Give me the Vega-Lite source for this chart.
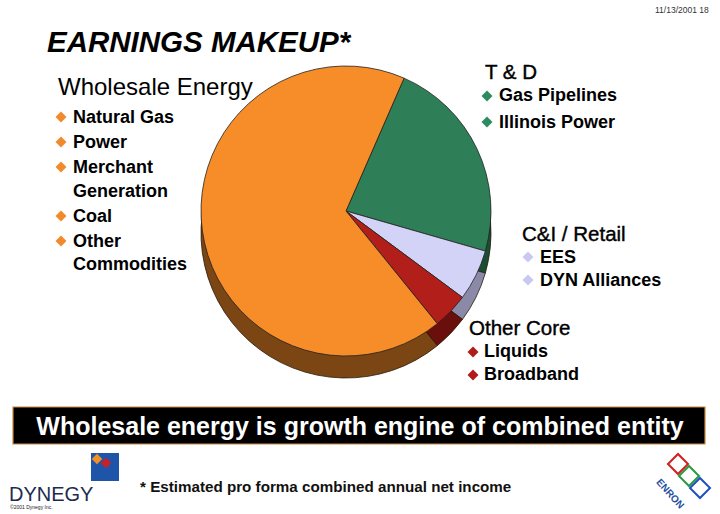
{
  "$schema": "https://vega.github.io/schema/vega-lite/v6.json",
  "width": 720,
  "height": 514,
  "padding": 0,
  "autosize": {"type": "fit", "contains": "padding"},
  "background": "white",
  "config": {"view": {"stroke": null}, "font": "Liberation Sans"},
  "datasets": {
    "pie": [
      {"segment": "T & D", "value": 22.9, "order": 1},
      {"segment": "C&I / Retail", "value": 5.7, "order": 2},
      {"segment": "Other Core", "value": 4.0, "order": 3},
      {"segment": "Wholesale Energy", "value": 67.4, "order": 4}
    ]
  },
  "resolve": {"scale": {"color": "independent"}},
  "layer": [
    {
      "data": {"values": [{"x": 13, "x2": 705, "y": 407, "y2": 444}]},
      "mark": {"type": "rect", "fill": "#000000", "stroke": "#c9893a", "strokeWidth": 1.2},
      "encoding": {
        "x": {"field": "x", "type": "quantitative", "scale": {"domain": [0, 720]}, "axis": null},
        "x2": {"field": "x2"},
        "y": {"field": "y", "type": "quantitative", "scale": {"domain": [514, 0]}, "axis": null},
        "y2": {"field": "y2"}
      }
    },
    {
      "data": {"name": "pie"},
      "mark": {"type": "arc", "outerRadius": 145, "yOffset": 8},
      "encoding": {
        "x": {"datum": 346, "type": "quantitative", "scale": {"domain": [0, 720]}, "axis": null},
        "y": {"datum": 211, "type": "quantitative", "scale": {"domain": [514, 0]}, "axis": null},
        "theta": {"field": "value", "type": "quantitative", "stack": true, "scale": {"range": [0.412, 6.6952]}},
        "order": {"field": "order"},
        "color": {"field": "segment", "type": "nominal", "legend": null,
          "scale": {"domain": ["Wholesale Energy", "T & D", "C&I / Retail", "Other Core"], "range": ["#7b4613", "#1b4d33", "#8a8aa8", "#6b0f0c"]}}
      }
    },
    {
      "data": {"name": "pie"},
      "mark": {"type": "arc", "outerRadius": 145, "yOffset": 15},
      "encoding": {
        "x": {"datum": 346, "type": "quantitative", "scale": {"domain": [0, 720]}, "axis": null},
        "y": {"datum": 211, "type": "quantitative", "scale": {"domain": [514, 0]}, "axis": null},
        "theta": {"field": "value", "type": "quantitative", "stack": true, "scale": {"range": [0.412, 6.6952]}},
        "order": {"field": "order"},
        "color": {"field": "segment", "type": "nominal", "legend": null,
          "scale": {"domain": ["Wholesale Energy", "T & D", "C&I / Retail", "Other Core"], "range": ["#7b4613", "#1b4d33", "#8a8aa8", "#6b0f0c"]}}
      }
    },
    {
      "data": {"name": "pie"},
      "mark": {"type": "arc", "outerRadius": 145, "yOffset": 22, "stroke": "#2a1a0a", "strokeWidth": 0.8},
      "encoding": {
        "x": {"datum": 346, "type": "quantitative", "scale": {"domain": [0, 720]}, "axis": null},
        "y": {"datum": 211, "type": "quantitative", "scale": {"domain": [514, 0]}, "axis": null},
        "theta": {"field": "value", "type": "quantitative", "stack": true, "scale": {"range": [0.412, 6.6952]}},
        "order": {"field": "order"},
        "color": {"field": "segment", "type": "nominal", "legend": null,
          "scale": {"domain": ["Wholesale Energy", "T & D", "C&I / Retail", "Other Core"], "range": ["#7b4613", "#1b4d33", "#8a8aa8", "#6b0f0c"]}}
      }
    },
    {
      "data": {"name": "pie"},
      "mark": {"type": "arc", "outerRadius": 145, "stroke": "#222222", "strokeWidth": 0.8},
      "encoding": {
        "x": {"datum": 346, "type": "quantitative", "scale": {"domain": [0, 720]}, "axis": null},
        "y": {"datum": 211, "type": "quantitative", "scale": {"domain": [514, 0]}, "axis": null},
        "theta": {"field": "value", "type": "quantitative", "stack": true, "scale": {"range": [0.412, 6.6952]}},
        "order": {"field": "order"},
        "color": {"field": "segment", "type": "nominal", "legend": null,
          "scale": {"domain": ["Wholesale Energy", "T & D", "C&I / Retail", "Other Core"], "range": ["#f78d28", "#2e7f57", "#d3d3f7", "#b21e1a"]}}
      }
    },
    {
      "data": {"values": [{"text": "EARNINGS MAKEUP*", "x": 47, "y": 52}]},
      "mark": {"type": "text", "align": "left", "baseline": "alphabetic", "fontSize": 29.5, "fontWeight": "bold", "fontStyle": "italic", "color": "#000000"},
      "encoding": {
        "x": {"field": "x", "type": "quantitative", "scale": {"domain": [0, 720]}, "axis": null},
        "y": {"field": "y", "type": "quantitative", "scale": {"domain": [514, 0]}, "axis": null},
        "text": {"field": "text"}
      }
    },
    {
      "data": {"values": [{"text": "11/13/2001   18", "x": 655, "y": 13}]},
      "mark": {"type": "text", "align": "left", "baseline": "alphabetic", "fontSize": 8.5, "color": "#333333"},
      "encoding": {
        "x": {"field": "x", "type": "quantitative", "scale": {"domain": [0, 720]}, "axis": null},
        "y": {"field": "y", "type": "quantitative", "scale": {"domain": [514, 0]}, "axis": null},
        "text": {"field": "text"}
      }
    },
    {
      "data": {"values": [{"text": "Wholesale Energy", "x": 58, "y": 95}]},
      "mark": {"type": "text", "align": "left", "baseline": "alphabetic", "fontSize": 24, "color": "#000000"},
      "encoding": {
        "x": {"field": "x", "type": "quantitative", "scale": {"domain": [0, 720]}, "axis": null},
        "y": {"field": "y", "type": "quantitative", "scale": {"domain": [514, 0]}, "axis": null},
        "text": {"field": "text"}
      }
    },
    {
      "data": {"values": [
        {"text": "T & D", "x": 485, "y": 79},
        {"text": "C&I / Retail", "x": 522, "y": 241},
        {"text": "Other Core", "x": 469, "y": 335}
      ]},
      "mark": {"type": "text", "align": "left", "baseline": "alphabetic", "fontSize": 20.5, "color": "#000000", "stroke": "#000000", "strokeWidth": 0.4},
      "encoding": {
        "x": {"field": "x", "type": "quantitative", "scale": {"domain": [0, 720]}, "axis": null},
        "y": {"field": "y", "type": "quantitative", "scale": {"domain": [514, 0]}, "axis": null},
        "text": {"field": "text"}
      }
    },
    {
      "data": {"values": [
        {"text": "Natural Gas", "x": 73, "y": 123},
        {"text": "Power", "x": 73, "y": 148},
        {"text": "Merchant", "x": 73, "y": 173},
        {"text": "Generation", "x": 73, "y": 197},
        {"text": "Coal", "x": 73, "y": 222},
        {"text": "Other", "x": 73, "y": 247},
        {"text": "Commodities", "x": 73, "y": 270},
        {"text": "Gas Pipelines", "x": 499, "y": 101},
        {"text": "Illinois Power", "x": 499, "y": 128},
        {"text": "EES", "x": 540, "y": 263},
        {"text": "DYN Alliances", "x": 540, "y": 286},
        {"text": "Liquids", "x": 484, "y": 357},
        {"text": "Broadband", "x": 484, "y": 380}
      ]},
      "mark": {"type": "text", "align": "left", "baseline": "alphabetic", "fontSize": 18, "fontWeight": "bold", "color": "#000000"},
      "encoding": {
        "x": {"field": "x", "type": "quantitative", "scale": {"domain": [0, 720]}, "axis": null},
        "y": {"field": "y", "type": "quantitative", "scale": {"domain": [514, 0]}, "axis": null},
        "text": {"field": "text"}
      }
    },
    {
      "data": {"values": [
        {"group": "Wholesale Energy", "x": 61, "y": 117},
        {"group": "Wholesale Energy", "x": 61, "y": 142},
        {"group": "Wholesale Energy", "x": 61, "y": 167},
        {"group": "Wholesale Energy", "x": 61, "y": 216},
        {"group": "Wholesale Energy", "x": 61, "y": 241},
        {"group": "T & D", "x": 487, "y": 96},
        {"group": "T & D", "x": 487, "y": 122},
        {"group": "C&I / Retail", "x": 528, "y": 257},
        {"group": "C&I / Retail", "x": 528, "y": 280},
        {"group": "Other Core", "x": 473, "y": 352},
        {"group": "Other Core", "x": 473, "y": 375}
      ]},
      "mark": {"type": "point", "shape": "diamond", "filled": true, "size": 120, "opacity": 1},
      "encoding": {
        "x": {"field": "x", "type": "quantitative", "scale": {"domain": [0, 720]}, "axis": null},
        "y": {"field": "y", "type": "quantitative", "scale": {"domain": [514, 0]}, "axis": null},
        "color": {"field": "group", "type": "nominal", "legend": null,
          "scale": {"domain": ["Wholesale Energy", "T & D", "C&I / Retail", "Other Core"], "range": ["#f08a2c", "#2e8b60", "#c8c8f0", "#b01c1c"]}}
      }
    },
    {
      "data": {"values": [{"text": "Wholesale energy is growth engine of combined entity", "x": 360, "y": 435}]},
      "mark": {"type": "text", "align": "center", "baseline": "alphabetic", "fontSize": 25, "fontWeight": "bold", "color": "#ffffff"},
      "encoding": {
        "x": {"field": "x", "type": "quantitative", "scale": {"domain": [0, 720]}, "axis": null},
        "y": {"field": "y", "type": "quantitative", "scale": {"domain": [514, 0]}, "axis": null},
        "text": {"field": "text"}
      }
    },
    {
      "data": {"values": [{"text": "* Estimated pro forma combined annual net income", "x": 140, "y": 492}]},
      "mark": {"type": "text", "align": "left", "baseline": "alphabetic", "fontSize": 15.2, "fontWeight": "bold", "color": "#111111"},
      "encoding": {
        "x": {"field": "x", "type": "quantitative", "scale": {"domain": [0, 720]}, "axis": null},
        "y": {"field": "y", "type": "quantitative", "scale": {"domain": [514, 0]}, "axis": null},
        "text": {"field": "text"}
      }
    },
    {
      "data": {"values": [{"text": "DYNEGY", "x": 9, "y": 501}]},
      "mark": {"type": "text", "align": "left", "baseline": "alphabetic", "fontSize": 20, "color": "#1d2b4f"},
      "encoding": {
        "x": {"field": "x", "type": "quantitative", "scale": {"domain": [0, 720]}, "axis": null},
        "y": {"field": "y", "type": "quantitative", "scale": {"domain": [514, 0]}, "axis": null},
        "text": {"field": "text"}
      }
    },
    {
      "data": {"values": [{"text": "©2001 Dynegy Inc.", "x": 10, "y": 509}]},
      "mark": {"type": "text", "align": "left", "baseline": "alphabetic", "fontSize": 5, "color": "#222222"},
      "encoding": {
        "x": {"field": "x", "type": "quantitative", "scale": {"domain": [0, 720]}, "axis": null},
        "y": {"field": "y", "type": "quantitative", "scale": {"domain": [514, 0]}, "axis": null},
        "text": {"field": "text"}
      }
    },
    {
      "data": {"values": [{"x": 91, "x2": 119, "y": 453, "y2": 481}]},
      "mark": {"type": "rect", "fill": "#1f55a8"},
      "encoding": {
        "x": {"field": "x", "type": "quantitative", "scale": {"domain": [0, 720]}, "axis": null},
        "x2": {"field": "x2"},
        "y": {"field": "y", "type": "quantitative", "scale": {"domain": [514, 0]}, "axis": null},
        "y2": {"field": "y2"}
      }
    },
    {
      "data": {"values": [
        {"part": "orange", "x": 97, "y": 459},
        {"part": "red", "x": 106, "y": 463}
      ]},
      "mark": {"type": "point", "shape": "diamond", "filled": true, "size": 110, "opacity": 1},
      "encoding": {
        "x": {"field": "x", "type": "quantitative", "scale": {"domain": [0, 720]}, "axis": null},
        "y": {"field": "y", "type": "quantitative", "scale": {"domain": [514, 0]}, "axis": null},
        "color": {"field": "part", "type": "nominal", "legend": null,
          "scale": {"domain": ["orange", "red"], "range": ["#f0902a", "#c8202a"]}}
      }
    },
    {
      "data": {"values": [
        {"part": "red", "x": 678, "y": 464},
        {"part": "green", "x": 689, "y": 476},
        {"part": "blue", "x": 700, "y": 488}
      ]},
      "mark": {"type": "point", "shape": "square", "filled": false, "size": 200, "strokeWidth": 2, "angle": 45, "opacity": 1},
      "encoding": {
        "x": {"field": "x", "type": "quantitative", "scale": {"domain": [0, 720]}, "axis": null},
        "y": {"field": "y", "type": "quantitative", "scale": {"domain": [514, 0]}, "axis": null},
        "color": {"field": "part", "type": "nominal", "legend": null,
          "scale": {"domain": ["red", "green", "blue"], "range": ["#d02020", "#2a9a40", "#2050c0"]}}
      }
    },
    {
      "data": {"values": [{"text": "ENRON", "x": 670, "y": 494}]},
      "mark": {"type": "text", "align": "center", "baseline": "middle", "fontSize": 10, "fontWeight": "bold", "angle": 48, "color": "#1f4fa0"},
      "encoding": {
        "x": {"field": "x", "type": "quantitative", "scale": {"domain": [0, 720]}, "axis": null},
        "y": {"field": "y", "type": "quantitative", "scale": {"domain": [514, 0]}, "axis": null},
        "text": {"field": "text"}
      }
    }
  ]
}
